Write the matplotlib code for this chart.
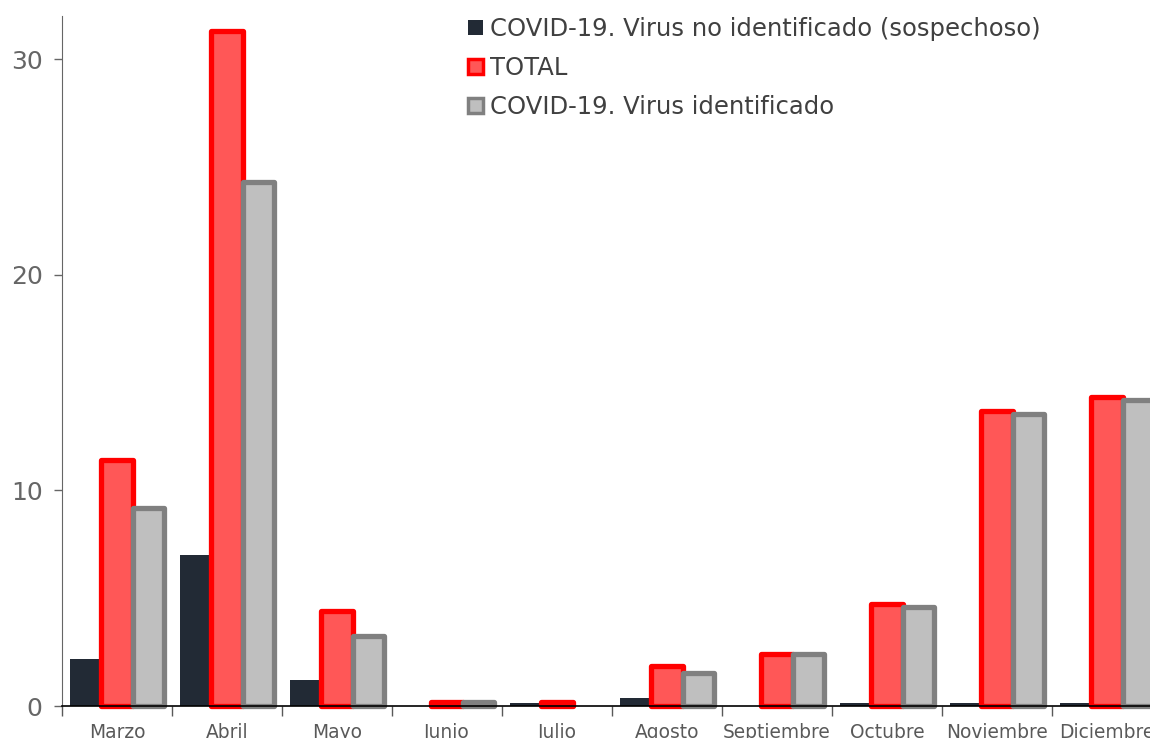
import matplotlib.pyplot as plt
import numpy as np
from matplotlib.patches import Patch

# Datos
meses = ['Marzo', 'Abril', 'Mayo', 'Junio', 'Julio', 'Agosto',
         'Septiembre', 'Octubre', 'Noviembre', 'Diciembre']
sospechoso = [2.2, 7.0, 1.2, 0.0, 0.15, 0.35, 0.0, 0.15, 0.15, 0.15]
total = [11.4, 31.3, 4.4, 0.2, 0.2, 1.85, 2.4, 4.75, 13.7, 14.35]
identificado = [9.2, 24.3, 3.25, 0.2, 0.0, 1.55, 2.4, 4.6, 13.55, 14.2]

etiquetas = ['COVID-19. Virus no identificado (sospechoso)', 'TOTAL',
             'COVID-19. Virus identificado']

fig = plt.figure(figsize=(11.5, 7.38), dpi=100)
ax = fig.add_axes([62 / 1150, 32 / 738, 1100 / 1150, 690 / 738])

x = np.arange(len(meses))
w = 0.286

def barras(desp, valores, **kw):
    # solo se dibujan las barras con valor
    v = np.array(valores)
    m = v > 0
    ax.bar(x[m] + desp, v[m], w, clip_on=False, **kw)

barras(-w, sospechoso, color='#222a35', linewidth=0)
barras(0, total, color='#ff5757', edgecolor='#ff0000', linewidth=3.8,
       joinstyle='round')
barras(w, identificado, color='#bfbfbf', edgecolor='#808080',
       linewidth=3.8, joinstyle='round')

ax.set_xlim(-0.5, len(meses) - 0.5)
ax.set_ylim(0, 32)

# Eje Y
ax.set_yticks([0, 10, 20, 30])
ax.tick_params(axis='y', colors='#666666', labelsize=18, length=6,
               width=1, pad=8)
# Eje X: marcas entre categorias
ax.set_xticks(x)
ax.set_xticklabels(meses)
ax.set_xticks(np.arange(-0.5, len(meses), 1), minor=True)
ax.tick_params(axis='x', which='major', length=0, labelsize=13.4,
               labelcolor='#595959', pad=12)
ax.tick_params(axis='x', which='minor', length=7, width=1, color='#595959')

ax.spines['top'].set_visible(False)
ax.spines['right'].set_visible(False)
ax.spines['left'].set_color('#666666')
ax.spines['bottom'].set_color('black')
ax.spines['bottom'].set_linewidth(1.2)

handles = [
    Patch(facecolor='#222a35', edgecolor='#222a35', linewidth=0),
    Patch(facecolor='#ff5757', edgecolor='#ff0000', linewidth=2.5, joinstyle='round'),
    Patch(facecolor='#bfbfbf', edgecolor='#808080', linewidth=2.5, joinstyle='round'),
]
fig.legend(handles, etiquetas, loc='upper left',
           bbox_to_anchor=(468 / 1150, 1 - 17 / 738), frameon=False,
           fontsize=17.5, labelcolor='#404040', handlelength=0.6,
           handleheight=0.6, handletextpad=0.3, labelspacing=0.62,
           borderaxespad=0, borderpad=0)

plt.savefig('out.png', dpi=100)
